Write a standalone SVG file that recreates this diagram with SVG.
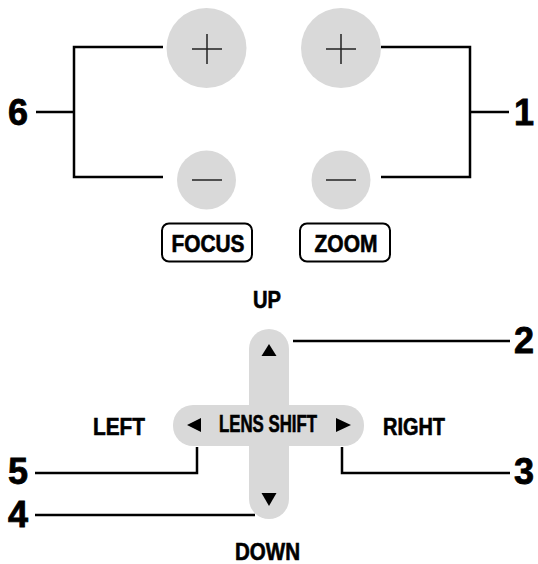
<svg xmlns="http://www.w3.org/2000/svg" width="538" height="564" viewBox="0 0 538 564">
<style>
.btn{fill:#d9d9d9}
.sym{stroke:#222;stroke-width:1.5;fill:none}
.con{stroke:#000;stroke-width:2.5;fill:none}
.num{font-family:"Liberation Sans",Arial,sans-serif;font-weight:bold;font-size:36px;fill:#000;stroke:#000;stroke-width:0.8}
.lbl{font-family:"Liberation Sans",Arial,sans-serif;font-weight:bold;font-size:23px;fill:#000;stroke:#000;stroke-width:0.6}
.box{fill:#fff;stroke:#000;stroke-width:2}
.tri{fill:#000}
</style>
<rect width="538" height="564" fill="#fff"/>
<g id="connectors">
<path class="con" d="M163,47 H74 V177 H163 M36,112 H74"/>
<path class="con" d="M381,47 H470 V177 H381 M470,112 H509"/>
<path class="con" d="M293,341 H510"/>
<path class="con" d="M342,447 V473 H510"/>
<path class="con" d="M197,447 V473 H35"/>
<path class="con" d="M255,515 H35"/>
</g>
<g id="focus-plus"><circle class="btn" cx="206.5" cy="48" r="40"/><path class="sym" d="M192,49 H222 M207,34 V64"/></g>
<g id="focus-minus"><circle class="btn" cx="206.5" cy="180" r="29.5"/><path class="sym" d="M192,180 H222"/></g>
<g id="zoom-plus"><circle class="btn" cx="341" cy="48" r="40"/><path class="sym" d="M326,49 H356 M341,34 V64"/></g>
<g id="zoom-minus"><circle class="btn" cx="341" cy="180" r="29.5"/><path class="sym" d="M326,180 H356"/></g>
<g id="focus-label"><rect class="box" x="162" y="223.5" width="90" height="38" rx="7"/><text class="lbl" x="208" y="252" font-size="26" text-anchor="middle" textLength="73" lengthAdjust="spacingAndGlyphs">FOCUS</text></g>
<g id="zoom-label"><rect class="box" x="300" y="223.5" width="90" height="38" rx="7"/><text class="lbl" x="346" y="252" font-size="26" text-anchor="middle" textLength="63" lengthAdjust="spacingAndGlyphs">ZOOM</text></g>
<g id="lens-shift">
<rect class="btn" x="249" y="329" width="40" height="190" rx="20"/>
<rect class="btn" x="173" y="405" width="191" height="41" rx="20"/>
<polygon class="tri" points="261.5,356 276.5,356 269,344"/>
<polygon class="tri" points="261.5,493 276.5,493 269,506"/>
<polygon class="tri" points="201,418 201,432 187,425"/>
<polygon class="tri" points="336,418 336,432 351,425"/>
<text class="lbl" x="268" y="432" font-size="19" text-anchor="middle" textLength="98" lengthAdjust="spacingAndGlyphs">LENS SHIFT</text>
</g>
<g id="dir-labels">
<text class="lbl" x="267" y="308" font-size="22" text-anchor="middle" textLength="28" lengthAdjust="spacingAndGlyphs">UP</text>
<text class="lbl" x="119" y="435" text-anchor="middle" textLength="52" lengthAdjust="spacingAndGlyphs">LEFT</text>
<text class="lbl" x="414" y="435" text-anchor="middle" textLength="62" lengthAdjust="spacingAndGlyphs">RIGHT</text>
<text class="lbl" x="267.5" y="560" text-anchor="middle" textLength="65" lengthAdjust="spacingAndGlyphs">DOWN</text>
</g>
<g id="numbers">
<text class="num" x="8" y="125">6</text>
<text class="num" x="534" y="125" text-anchor="end">1</text>
<text class="num" x="534" y="353" text-anchor="end">2</text>
<text class="num" x="534" y="484" text-anchor="end">3</text>
<text class="num" x="8" y="484">5</text>
<text class="num" x="8" y="527">4</text>
</g>
</svg>
